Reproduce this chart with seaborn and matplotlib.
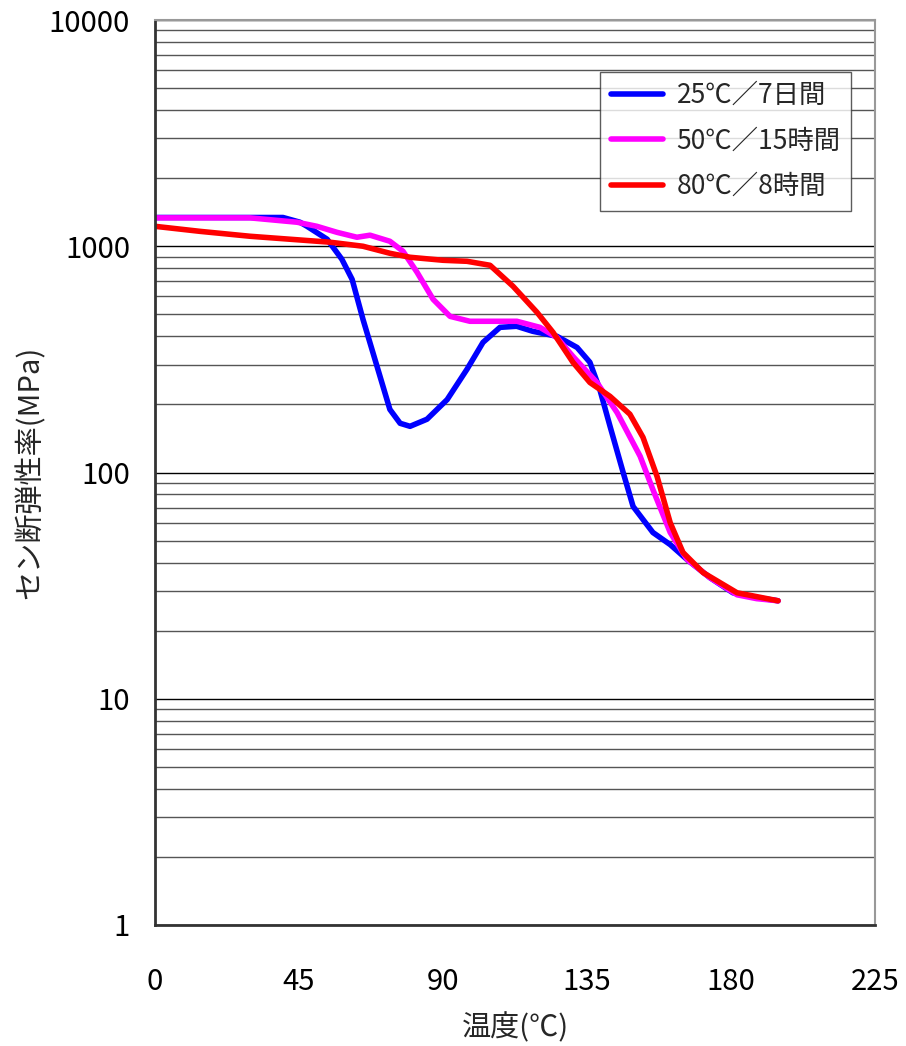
import numpy as np
import pandas as pd
import matplotlib
matplotlib.use('Agg')
import matplotlib.pyplot as plt
import seaborn as sns
from matplotlib.ticker import LogLocator, FixedLocator, NullFormatter

# 25℃/7日間
temp_25 = [0, 40, 45.3, 47.5, 53.8, 58.4, 61.6, 65, 69.4, 73.4, 76.6, 79.7, 85, 91.3, 97.5,
           102.5, 107.8, 113, 118, 125.6, 131.9, 135.9, 139, 142.2, 146.3, 149.4, 155.6,
           161, 166.3, 173.4, 180.6, 188, 194.7]
mod_25 = [1340, 1340, 1277, 1225, 1074, 876, 714, 475, 294, 190, 165, 160, 172, 210, 286,
          376, 438, 443, 421, 400, 357, 307, 233, 160, 100, 70.8, 54.3,
          48, 41.2, 34.3, 29.4, 28, 27.1]

# 50℃/15時間
temp_50 = [0, 29.7, 44.4, 50.6, 56.9, 63.1, 67.2, 73.4, 77.5, 81.9, 86.9, 92.2, 98.4, 113.1,
           120.3, 125.6, 130.6, 138.1, 144.4, 151.6, 155.6, 161, 166.3, 173.4, 181.9, 188, 194.7]
mod_50 = [1335, 1335, 1277, 1225, 1152, 1096, 1119, 1052, 950, 767, 583, 490, 466, 466,
          438, 395, 326, 250, 184, 118, 84, 54.3, 41.2, 34.3, 28.8, 27.7, 27.1]

# 80℃/8時間
temp_80 = [0, 14, 29.7, 42.2, 54.7, 65, 73.4, 79.7, 90, 97.5, 104.7, 111.9, 119.4, 124.4,
           130.6, 135.9, 142.2, 148.4, 152.5, 156.9, 161, 165, 171.3, 181.9, 194.7]
mod_80 = [1225, 1164, 1107, 1074, 1042, 1000, 931, 894, 867, 858, 824, 665, 510, 416,
          307, 250, 217, 181, 143, 96, 60, 44.3, 36.1, 29.4, 27.1]

labels = ['25℃／7日間', '50℃／15時間', '80℃／8時間']
colors = ['#0000FF', '#FF00FF', '#FF0000']

df = pd.concat([
    pd.DataFrame({'temp': temp_25, 'mod': mod_25, 'cond': labels[0]}),
    pd.DataFrame({'temp': temp_50, 'mod': mod_50, 'cond': labels[1]}),
    pd.DataFrame({'temp': temp_80, 'mod': mod_80, 'cond': labels[2]}),
])

sns.set_style('white')
plt.rcParams['font.family'] = ['Noto Sans CJK JP', 'DejaVu Sans']

fig = plt.figure(figsize=(9.06, 10.46), dpi=100)
ax = fig.add_axes([155 / 906, 1 - 925 / 1046, 720 / 906, 905 / 1046])

sns.lineplot(data=df, x='temp', y='mod', hue='cond', palette=colors, estimator=None,
             sort=False, linewidth=4, ax=ax)
for line in ax.get_lines():
    line.set_solid_joinstyle('round')
    line.set_solid_capstyle('round')

ax.set_yscale('log')
ax.set_xlim(0, 225)
ax.set_ylim(1, 10000)
ax.xaxis.set_major_locator(FixedLocator([0, 45, 90, 135, 180, 225]))
ax.yaxis.set_minor_locator(LogLocator(base=10, subs=np.arange(2, 10), numticks=20))
ax.yaxis.set_minor_formatter(NullFormatter())
ax.set_yticks([1, 10, 100, 1000, 10000])
ax.set_yticklabels(['1', '10', '100', '1000', '10000'])

ax.grid(True, axis='y', which='major', color='#000000', linewidth=1.0)
ax.grid(True, axis='y', which='minor', color='#555555', linewidth=1.0)
ax.grid(False, axis='x')
ax.set_axisbelow(True)

ax.tick_params(axis='both', which='major', direction='in', length=8, width=1,
               labelsize=21, colors='#333333', labelcolor='black')
ax.tick_params(axis='y', which='major', pad=18)
ax.tick_params(axis='x', which='major', pad=30)
ax.tick_params(axis='y', which='minor', length=0)

for side in ['left', 'bottom']:
    ax.spines[side].set_color('#333333')
    ax.spines[side].set_linewidth(2)
for side in ['top', 'right']:
    ax.spines[side].set_color('#999999')
    ax.spines[side].set_linewidth(1.5)

ax.set_xlabel('温度(℃)', fontsize=21, labelpad=12)
ax.set_ylabel('セン断弾性率(MPa)', fontsize=21, labelpad=2)

leg = ax.legend(loc='upper left', bbox_to_anchor=(0.618, 0.943), borderaxespad=0,
                fontsize=19, frameon=True, fancybox=False, handlelength=2.0,
                labelspacing=0.7, borderpad=0.4, handletextpad=0.5)
leg.get_frame().set_edgecolor('#333333')
leg.get_frame().set_linewidth(1.0)
for line in leg.get_lines():
    line.set_linewidth(4)

fig.savefig('out.png', dpi=100)
